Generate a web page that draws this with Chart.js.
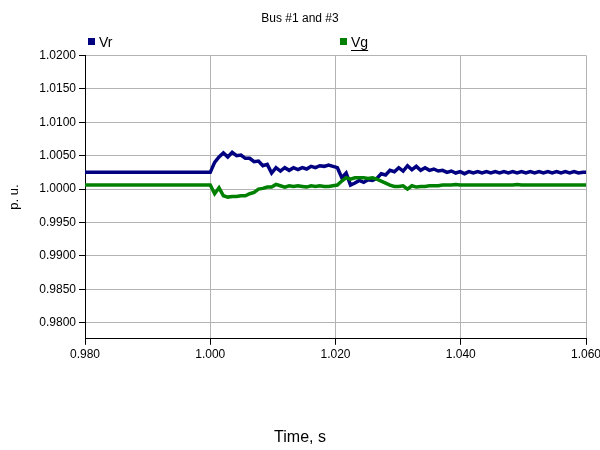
<!DOCTYPE html>
<html>
	<head>
		<meta charset="utf-8">
		<title>Bus #1 and #3</title>
		<style>
		body {
			margin: 0;
			padding: 0;
			background-color: #fff;
		}
		.chart {
			width: 600px;
			height: 450px;
		}
		</style>
		<script src="https://cdn.jsdelivr.net/npm/chart.js@4.4.0/dist/chart.umd.min.js"></script>
	</head>
	<body>
		<div class="chart">
			<canvas id="bus" width="600" height="450"></canvas>
		</div>
		<script>
		var FONT = "'Liberation Sans', Arial, sans-serif";

		// time, s
		var time = [
			0.980, 1.0000, 1.0007, 1.0014, 1.0021, 1.0028, 1.0035, 1.0042, 1.0049, 1.0056,
			1.0063, 1.0070, 1.0077, 1.0084, 1.0091, 1.0098, 1.0105, 1.0112, 1.0119, 1.0126,
			1.0133, 1.0140, 1.0147, 1.0154, 1.0161, 1.0168, 1.0175, 1.0182, 1.0189, 1.0196,
			1.0203, 1.0210, 1.0217, 1.0224, 1.0231, 1.0238, 1.0245, 1.0252, 1.0259, 1.0266,
			1.0273, 1.0280, 1.0287, 1.0294, 1.0301, 1.0308, 1.0315, 1.0322, 1.0329, 1.0336,
			1.0343, 1.0350, 1.0357, 1.0364, 1.0371, 1.0378, 1.0385, 1.0392, 1.0399, 1.0406,
			1.0413, 1.0420, 1.0427, 1.0434, 1.0441, 1.0448, 1.0455, 1.0462, 1.0469, 1.0476,
			1.0483, 1.0490, 1.0497, 1.0504, 1.0511, 1.0518, 1.0525, 1.0532, 1.0539, 1.0546,
			1.0553, 1.0560, 1.0567, 1.0574, 1.0581, 1.0588, 1.0595, 1.0600
		];
		// p.u.
		var vr = [
			1.0025, 1.0025, 1.0040, 1.0048, 1.0054, 1.0048, 1.0055, 1.0050, 1.0051, 1.0046,
			1.0046, 1.0041, 1.0042, 1.0035, 1.0037, 1.0024, 1.0032, 1.0027, 1.0032, 1.0028,
			1.0032, 1.0029, 1.0032, 1.0030, 1.0034, 1.0032, 1.0035, 1.0034, 1.0036, 1.0034,
			1.0032, 1.0017, 1.0024, 1.0006, 1.0009, 1.0013, 1.0010, 1.0014, 1.0013, 1.0016,
			1.0023, 1.0021, 1.0028, 1.0026, 1.0032, 1.0027, 1.0035, 1.0029, 1.0034, 1.0028,
			1.0032, 1.0028, 1.0030, 1.0027, 1.0028, 1.0025, 1.0027, 1.0024, 1.0026, 1.0023,
			1.0026, 1.0024, 1.0026, 1.0024, 1.0026, 1.0024, 1.0026, 1.0024, 1.0026, 1.0024,
			1.0026, 1.0024, 1.0026, 1.0024, 1.0026, 1.0024, 1.0026, 1.0024, 1.0026, 1.0024,
			1.0026, 1.0024, 1.0026, 1.0024, 1.0026, 1.0024, 1.0025, 1.0025
		];
		var vg = [
			1.0006, 1.0006, 0.9993, 1.0002, 0.9990, 0.9988, 0.9989, 0.9989, 0.9990, 0.9990,
			0.9993, 0.9995, 1.0000, 1.0001, 1.0003, 1.0003, 1.0007, 1.0005, 1.0003, 1.0005,
			1.0004, 1.0005, 1.0004, 1.0003, 1.0005, 1.0004, 1.0005, 1.0004, 1.0004, 1.0005,
			1.0006, 1.0012, 1.0017, 1.0015, 1.0017, 1.0017, 1.0017, 1.0016, 1.0017, 1.0015,
			1.0012, 1.0009, 1.0006, 1.0004, 1.0004, 1.0005, 1.0000, 1.0005, 1.0003, 1.0004,
			1.0004, 1.0005, 1.0005, 1.0005, 1.0006, 1.0006, 1.0006, 1.0007, 1.0006, 1.0006,
			1.0006, 1.0006, 1.0006, 1.0006, 1.0006, 1.0006, 1.0006, 1.0006, 1.0006, 1.0006,
			1.0006, 1.0007, 1.0006, 1.0006, 1.0006, 1.0006, 1.0006, 1.0006, 1.0006, 1.0006,
			1.0006, 1.0006, 1.0006, 1.0006, 1.0006, 1.0006, 1.0006, 1.0006
		];
		var xTicks = [0.980, 1.000, 1.020, 1.040, 1.060];
		var yTicks = [0.980, 0.985, 0.990, 0.995, 1.000, 1.005, 1.010, 1.015, 1.020];

		function pts(ys) {
			return time.map(function (t, i) { return {x: t, y: ys[i]}; });
		}

		// legend drawn over the plot like the original (boxes at fixed spots)
		var topLegend = {
			id: 'topLegend',
			afterDraw: function (chart) {
				var c = chart.ctx, a = chart.chartArea;
				var spots = [a.left + 3, a.left + 255];
				c.save();
				c.font = '14px ' + FONT;
				c.textBaseline = 'middle';
				chart.data.datasets.forEach(function (ds, i) {
					var x = spots[i];
					c.fillStyle = ds.borderColor;
					c.fillRect(x, 38, 7, 7);
					c.fillStyle = '#000';
					c.fillText(ds.label, x + 11, 43);
					if (ds.label === 'Vg') {
						c.fillRect(x + 11, 50, c.measureText(ds.label).width, 1);
					}
				});
				c.restore();
			}
		};

		var ctx = document.getElementById('bus');
		new Chart(ctx, {
			type: 'line',
			data: {
				datasets: [{
					label: 'Vr',
					data: pts(vr),
					borderColor: '#000080',
					borderWidth: 3.5,
					pointRadius: 0,
					tension: 0,
					order: 2
				}, {
					label: 'Vg',
					data: pts(vg),
					borderColor: '#008000',
					borderWidth: 3.5,
					pointRadius: 0,
					tension: 0,
					order: 1
				}]
			},
			options: {
				responsive: false,
				animation: false,
				layout: {
					padding: {left: 0, right: 0, top: 0, bottom: 0}
				},
				scales: {
					x: {
						type: 'linear',
						min: 0.98,
						max: 1.06,
						afterBuildTicks: function (s) {
							s.ticks = xTicks.map(function (v) { return {value: v}; });
						},
						afterFit: function (s) {
							s.height = 89;
							s.paddingLeft = 0;
							s.paddingRight = 14;
						},
						ticks: {
							color: '#000',
							font: {family: FONT, size: 12},
							maxRotation: 0,
							padding: 3,
							callback: function (v) { return v.toFixed(3); }
						},
						grid: {
							color: '#b3b3b3',
							tickColor: '#000',
							tickLength: 6
						},
						border: {color: '#000', width: 1}
					},
					y: {
						min: 0.9776,
						max: 1.02,
						afterBuildTicks: function (s) {
							s.ticks = yTicks.map(function (v) { return {value: v}; });
						},
						afterFit: function (s) { s.width = 85; },
						ticks: {
							color: '#000',
							font: {family: FONT, size: 12},
							padding: 3,
							callback: function (v) { return v.toFixed(4); }
						},
						grid: {
							color: '#b3b3b3',
							tickColor: '#000',
							tickLength: 6
						},
						border: {color: '#000', width: 1},
						title: {
							display: true,
							text: 'p. u.',
							color: '#000',
							font: {family: FONT, size: 13},
							padding: {top: 7, bottom: 0}
						}
					}
				},
				plugins: {
					legend: {display: false},
					tooltip: {enabled: false},
					title: {
						display: true,
						text: 'Bus #1 and #3',
						color: '#000',
						font: {family: FONT, size: 12, weight: 'normal'},
						padding: {top: 11, bottom: 30}
					},
					subtitle: {
						display: true,
						position: 'bottom',
						text: 'Time, s',
						color: '#000',
						font: {family: FONT, size: 16, weight: 'normal'},
						padding: {top: 0, bottom: 3}
					}
				}
			},
			plugins: [topLegend]
		});
		</script>
	</body>
</html>
